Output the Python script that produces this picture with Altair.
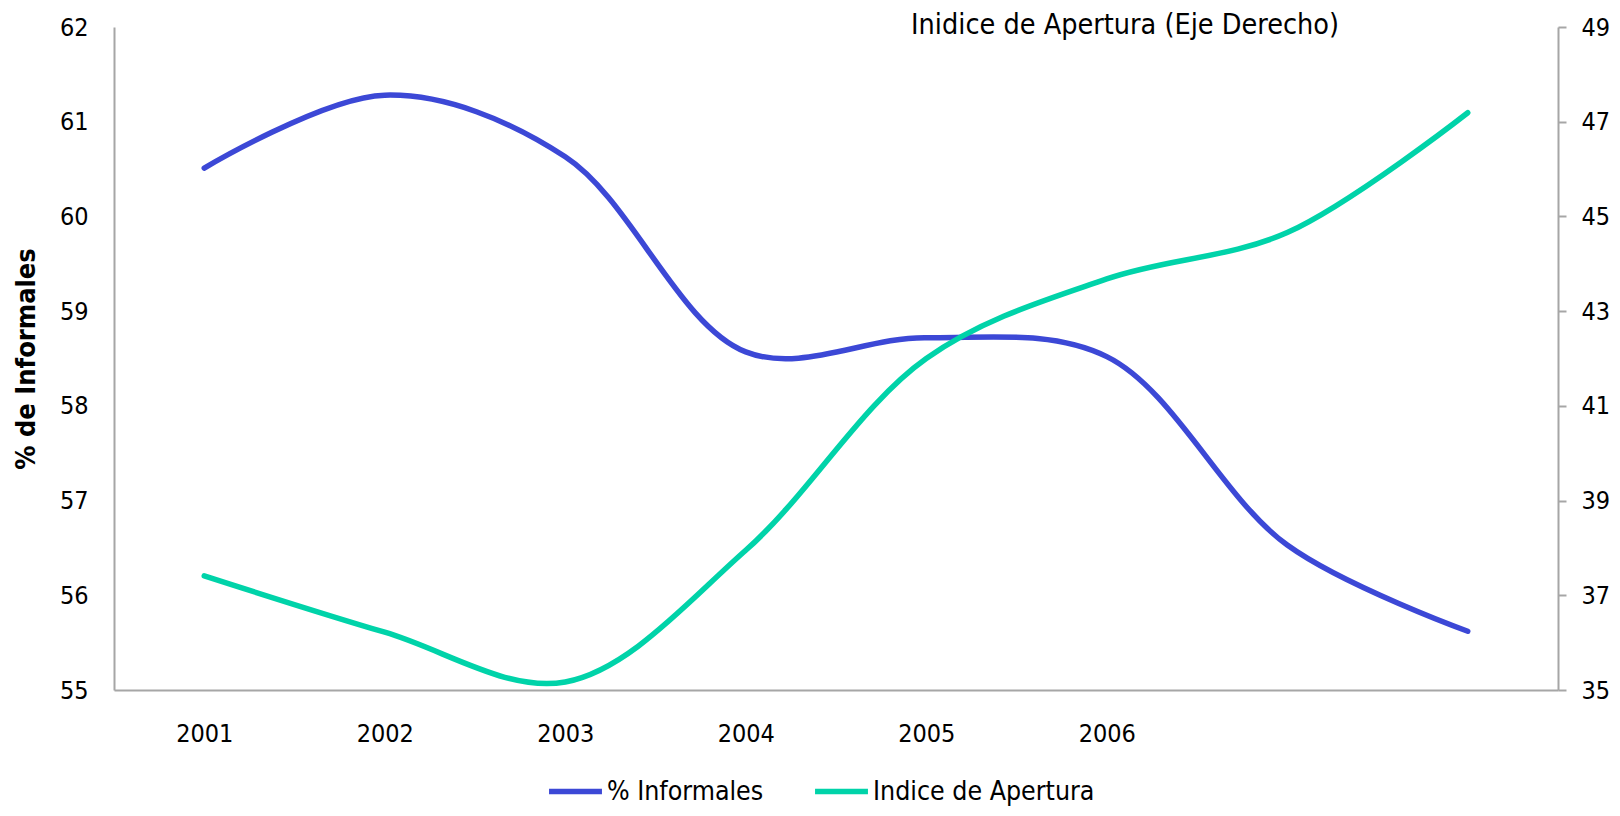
import altair as alt
import pandas as pd

# ---- data ----
x_labels = ["2001", "2002", "2003", "2004", "2005", "2006", "", ""]
informales = [60.51, 61.28, 60.63, 58.57, 58.72, 58.52, 56.53, 55.62]
apertura = [37.41, 36.22, 35.17, 37.95, 42.0, 43.68, 44.66, 47.19]
series_names = ["% Informales", "Indice de Apertura"]
series_colors = ["#3C48D6", "#00D3A9"]
left_ticks = [55, 56, 57, 58, 59, 60, 61, 62]
right_ticks = [35, 37, 39, 41, 43, 45, 47, 49]

FONT = "DejaVu Sans Condensed"
AXIS_GRAY = "#A6A6A6"

pos = list(range(1, len(x_labels) + 1))
df_inf = pd.DataFrame({"pos": pos, "valor": informales, "serie": series_names[0]})
df_ape = pd.DataFrame({"pos": pos, "valor": apertura, "serie": series_names[1]})

label_expr = "[" + ",".join(f"'{l}'" for l in x_labels) + "][datum.value - 1]"

x_enc = alt.X(
    "pos:Q",
    scale=alt.Scale(domain=[0.5, len(x_labels) + 0.5], nice=False, zero=False),
    axis=alt.Axis(
        values=pos, labelExpr=label_expr, ticks=False, grid=False, title=None,
        domainColor=AXIS_GRAY, domainWidth=2, labelPadding=31,
        labelFontSize=25, labelFont=FONT, labelColor="black",
    ),
)

color_enc = alt.Color(
    "serie:N",
    scale=alt.Scale(domain=series_names, range=series_colors),
    legend=alt.Legend(
        orient="none", legendX=432, legendY=735, direction="horizontal",
        title=None, symbolType="stroke", symbolSize=2800, symbolStrokeWidth=5.5,
        labelFontSize=26.5, labelFont=FONT, labelColor="black", labelLimit=500,
        columnPadding=40, labelOffset=2, padding=0,
    ),
)

left = alt.Chart(df_inf).mark_line(
    interpolate="catmull-rom", strokeWidth=5.5, strokeCap="round"
).encode(
    x=x_enc,
    y=alt.Y(
        "valor:Q",
        scale=alt.Scale(domain=[55, 62], nice=False, zero=False),
        axis=alt.Axis(
            orient="left", values=left_ticks, ticks=False, grid=False,
            domainColor=AXIS_GRAY, domainWidth=2, labelPadding=26,
            labelFontSize=25, labelFont=FONT, labelColor="black",
            title="% de Informales", titleFont=FONT, titleFontSize=27,
            titleFontWeight="bold", titleColor="black",
            titleX=-88, titleY=331.5, titleAngle=270,
            titleAlign="center", titleBaseline="middle",
        ),
    ),
    color=color_enc,
)

right = alt.Chart(df_ape).mark_line(
    interpolate="catmull-rom", strokeWidth=5.5, strokeCap="round"
).encode(
    x=x_enc,
    y=alt.Y(
        "valor:Q",
        scale=alt.Scale(domain=[35, 49], nice=False, zero=False),
        axis=alt.Axis(
            orient="right", values=right_ticks, ticks=True, tickSize=8,
            tickColor=AXIS_GRAY, tickWidth=2, grid=False,
            domainColor=AXIS_GRAY, domainWidth=2, labelPadding=15,
            labelFontSize=25, labelFont=FONT, labelColor="black", title=None,
        ),
    ),
    color=color_enc,
)

chart = (
    alt.layer(left, right)
    .resolve_scale(y="independent")
    .properties(
        width=1444,
        height=663,
        padding={"left": 106, "top": 19, "right": 54, "bottom": 118},
        autosize=alt.AutoSizeParams(type="none"),
        title=alt.TitleParams(
            text="Inidice de Apertura (Eje Derecho)", anchor="middle", dx=289,
            offset=0, baseline="alphabetic", dy=47,
            font=FONT, fontSize=28.5, fontWeight="normal", color="black",
        ),
    )
    .configure_view(stroke=None)
)

chart.save("out.html", embed_options={"renderer": "svg", "actions": False})
